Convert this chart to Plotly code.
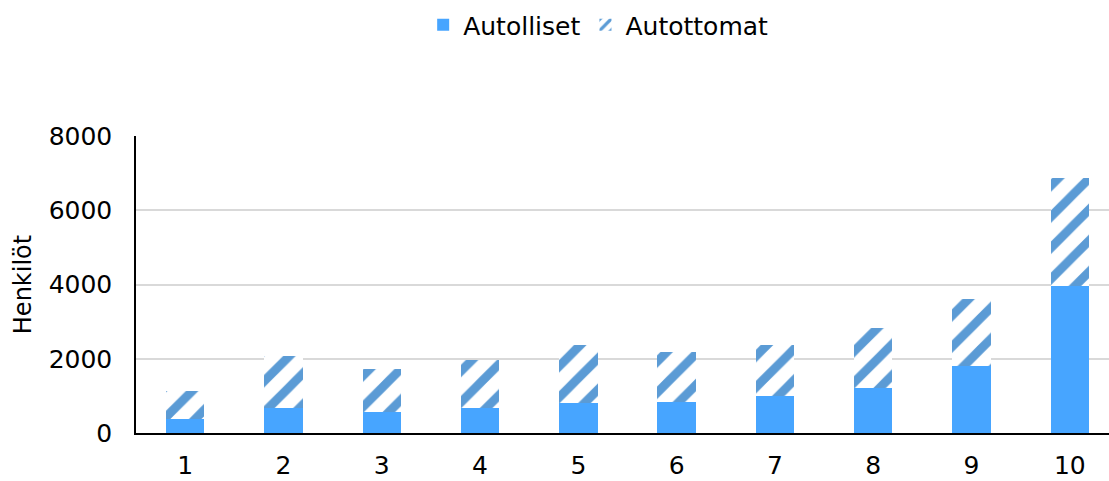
import plotly.graph_objects as go

categories = ["1", "2", "3", "4", "5", "6", "7", "8", "9", "10"]
autolliset = [375, 670, 565, 670, 810, 840, 985, 1210, 1805, 3960]
autottomat = [755, 1400, 1150, 1295, 1560, 1330, 1385, 1615, 1805, 2900]
y_ticks = [0, 2000, 4000, 6000, 8000]

xpos = list(range(1, len(categories) + 1))
font_family = "DejaVu Sans, Verdana, sans-serif"

fig = go.Figure()
fig.add_trace(go.Bar(
    x=xpos, y=autolliset, name="Autolliset",
    marker=dict(color="#47A5FF", line=dict(width=0)),
))
fig.add_trace(go.Bar(
    x=xpos, y=autottomat, name="Autottomat",
    marker=dict(color="white", line=dict(width=0),
                pattern=dict(shape="/", fgcolor="#5B9BD5", bgcolor="white",
                             size=22, solidity=0.4, fillmode="replace")),
))

fig.update_layout(
    barmode="stack",
    bargap=0.61,
    width=1109, height=481,
    margin=dict(l=136, r=0, t=136, b=48),
    plot_bgcolor="white", paper_bgcolor="white",
    font=dict(family=font_family, size=25, color="black"),
    legend=dict(orientation="h", x=0.475, xanchor="center",
                yref="container", y=0.948, yanchor="middle",
                font=dict(size=25), itemwidth=30,
                traceorder="normal"),
    showlegend=True,
)
fig.update_xaxes(
    range=[0.5, 0.5 + (1109 - 136) / 98.3],
    tickmode="array", tickvals=xpos, ticktext=categories,
    showline=True, linecolor="black", linewidth=2,
    showgrid=False, ticks="", ticklabelstandoff=9,
    tickfont=dict(size=25),
)
fig.update_yaxes(
    range=[0, 8000], tickvals=y_ticks,
    showline=True, linecolor="black", linewidth=1.5,
    showgrid=True, gridcolor="#D9D9D9", gridwidth=1.5,
    ticks="", ticklabelstandoff=17, tickfont=dict(size=25),
    title=dict(text="Henkilöt", font=dict(size=24), standoff=10),
    zeroline=False,
)
fig.write_html("out.html", config={"displayModeBar": False},
               post_script="document.body.style.margin='0';")
